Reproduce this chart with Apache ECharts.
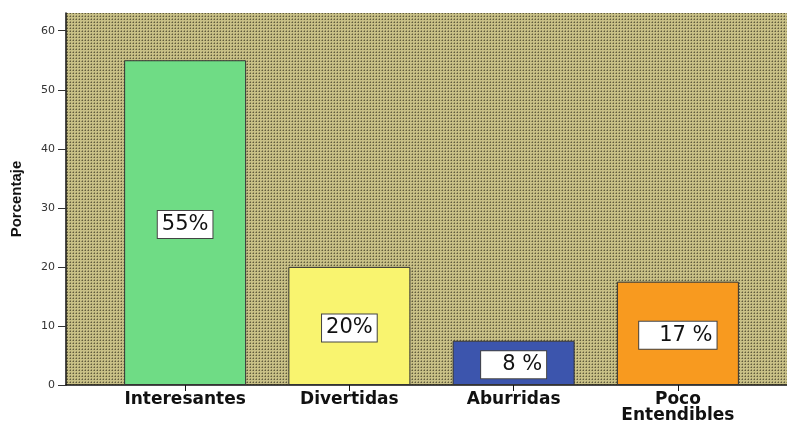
<!DOCTYPE html>
<html>
<head>
<meta charset="utf-8">
<script src="https://cdn.jsdelivr.net/npm/echarts@6/dist/echarts.min.js"></script>
<style>html,body{margin:0;padding:0;background:#fff;}#c{width:787px;height:425px;}</style>
</head>
<body>
<div id="c"></div>
<script>
var categories = ['Interesantes', 'Divertidas', 'Aburridas', 'Poco\nEntendibles'];
var values = [55, 20, 7.5, 17.5];
var labels = ['55%', '20%', '8 %', '17 %'];
var barColors = ['#6fdc85', '#f9f46f', '#3c55ad', '#f89a1f'];
var yTicks = [0, 10, 20, 30, 40, 50, 60];

// dotted khaki background pattern
var cv = document.createElement('canvas');
cv.width = 3; cv.height = 3;
var cx = cv.getContext('2d');
cx.fillStyle = 'rgb(200,192,134)';
cx.fillRect(0, 0, 3, 3);
cx.fillStyle = 'rgb(96,91,60)';
cx.fillRect(1, 1, 1, 1);
cx.fillStyle = 'rgb(152,145,100)';
cx.fillRect(0, 1, 1, 1);
cx.fillRect(1, 0, 1, 1);

var padLeft = [4, 4, 21, 20];

var chart = echarts.init(document.getElementById('c'));
chart.setOption({
  animation: false,
  grid: [
    {left: 66, right: 0, top: 13, bottom: 40, show: true, borderWidth: 0,
     backgroundColor: {image: cv, repeat: 'repeat'}},
    {left: 103, right: 27, top: 13, bottom: 40}
  ],
  xAxis: [
    {gridIndex: 0, type: 'category', data: [''],
     axisLine: {show: true, lineStyle: {color: '#111', width: 1.5}},
     axisTick: {show: false}, axisLabel: {show: false}},
    {gridIndex: 1, type: 'category', data: categories,
     axisLine: {show: false},
     axisTick: {show: true, alignWithLabel: true, length: 6, lineStyle: {color: '#111', width: 1}},
     axisLabel: {margin: 7, fontFamily: 'DejaVu Sans', fontWeight: 'bold', fontSize: 17, color: '#111', lineHeight: 16}}
  ],
  yAxis: [
    {gridIndex: 0, type: 'value', min: 0, max: 63,
     name: 'Porcentaje', nameLocation: 'middle', nameGap: 42, nameRotate: 90,
     nameTextStyle: {fontFamily: 'Liberation Sans', fontWeight: 'bold', fontSize: 15, color: '#111'},
     axisLine: {show: true, lineStyle: {color: '#111', width: 1.5}},
     axisTick: {show: true, length: 8, customValues: yTicks, lineStyle: {color: '#333'}},
     axisLabel: {margin: 11, customValues: yTicks, fontFamily: 'DejaVu Sans', fontSize: 11, color: '#333'},
     splitLine: {show: false}},
    {gridIndex: 1, type: 'value', min: 0, max: 63, show: false, splitLine: {show: false}}
  ],
  series: [{
    type: 'bar', xAxisIndex: 1, yAxisIndex: 1, barWidth: 122,
    data: values.map(function (v, i) {
      return {
        value: v,
        itemStyle: {color: barColors[i], borderColor: '#333', borderWidth: 1},
        label: {
          show: true, position: 'inside', offset: [0, 2],
          formatter: labels[i],
          fontFamily: 'DejaVu Sans', fontSize: 21, lineHeight: 21, color: '#111',
          backgroundColor: '#fff', borderColor: '#444', borderWidth: 1,
          padding: [3, 4, 3, padLeft[i]]
        }
      };
    })
  }]
});
</script>
</body>
</html>
